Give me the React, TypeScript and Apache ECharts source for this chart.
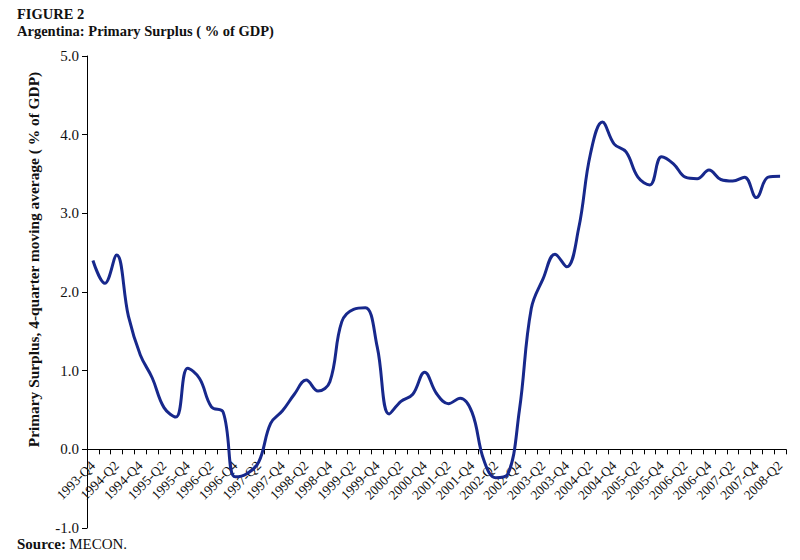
import React, { useEffect, useRef } from "react";
import * as echarts from "echarts";

const categories: string[] = [
  "1993-Q4",
  "1994-Q1", "1994-Q2", "1994-Q3", "1994-Q4",
  "1995-Q1", "1995-Q2", "1995-Q3", "1995-Q4",
  "1996-Q1", "1996-Q2", "1996-Q3", "1996-Q4",
  "1997-Q1", "1997-Q2", "1997-Q3", "1997-Q4",
  "1998-Q1", "1998-Q2", "1998-Q3", "1998-Q4",
  "1999-Q1", "1999-Q2", "1999-Q3", "1999-Q4",
  "2000-Q1", "2000-Q2", "2000-Q3", "2000-Q4",
  "2001-Q1", "2001-Q2", "2001-Q3", "2001-Q4",
  "2002-Q1", "2002-Q2", "2002-Q3", "2002-Q4",
  "2003-Q1", "2003-Q2", "2003-Q3", "2003-Q4",
  "2004-Q1", "2004-Q2", "2004-Q3", "2004-Q4",
  "2005-Q1", "2005-Q2", "2005-Q3", "2005-Q4",
  "2006-Q1", "2006-Q2", "2006-Q3", "2006-Q4",
  "2007-Q1", "2007-Q2", "2007-Q3", "2007-Q4",
  "2008-Q1", "2008-Q2",
];

const primarySurplus: number[] = [
  2.40,
  2.11, 2.47, 1.69, 1.20,
  0.91, 0.53, 0.41, 1.03,
  0.90, 0.54, 0.47, -0.35,
  -0.31, -0.16, 0.33, 0.49,
  0.70, 0.88, 0.74, 0.86,
  1.62, 1.78, 1.80, 1.30,
  0.45, 0.61, 0.70, 0.98,
  0.71, 0.58, 0.65, 0.47,
  -0.14, -0.36, -0.32, 0.50,
  1.79, 2.17, 2.48, 2.32,
  2.81, 3.76, 4.16, 3.88,
  3.78, 3.46, 3.36, 3.72,
  3.63, 3.46, 3.44, 3.55,
  3.43, 3.41, 3.46, 3.20,
  3.46, 3.47,
];

const yMin = -1;
const yMax = 5;
const yStep = 1;

const titleLine1 = "FIGURE 2";
const titleLine2 = "Argentina: Primary Surplus ( % of GDP)";
const yAxisTitle = "Primary Surplus, 4-quarter moving average ( % of GDP)";
const sourceLabel = "Source:";
const sourceText = "MECON.";

const SERIF = "'Liberation Serif', 'Times New Roman', serif";

const GRID_TOP = 56;
const GRID_BOTTOM = 32;
const GRID_HEIGHT = 560 - GRID_TOP - GRID_BOTTOM;

export default function App() {
  const ref = useRef<HTMLDivElement>(null);

  useEffect(() => {
    if (!ref.current) return;
    const chart = echarts.init(ref.current, null, { renderer: "svg" });
    const zeroOffset = -(GRID_HEIGHT * (0 - yMin)) / (yMax - yMin);
    chart.setOption({
      animation: false,
      backgroundColor: "#ffffff",
      textStyle: { fontFamily: SERIF },
      grid: {
        left: 87,
        right: 14,
        top: GRID_TOP,
        bottom: GRID_BOTTOM,
        containLabel: false,
        outerBoundsMode: "none",
      },
      graphic: [
        {
          type: "text",
          left: 17,
          top: 6,
          style: { text: titleLine1, font: `bold 14.5px ${SERIF}`, fill: "#111" },
        },
        {
          type: "text",
          left: 17,
          top: 23,
          style: { text: titleLine2, font: `bold 14.5px ${SERIF}`, fill: "#111" },
        },
        {
          type: "text",
          x: 33,
          y: 259.5,
          rotation: Math.PI / 2,
          style: {
            text: yAxisTitle,
            font: `bold 15.4px ${SERIF}`,
            fill: "#111",
            align: "center",
            verticalAlign: "middle",
          },
        },
        {
          type: "text",
          left: 17,
          top: 536,
          style: {
            text: `{b|${sourceLabel}} {r|${sourceText}}`,
            rich: {
              b: { font: `bold 15px ${SERIF}`, fill: "#111" },
              r: { font: `15px ${SERIF}`, fill: "#111" },
            },
          },
        },
      ],
      xAxis: {
        type: "category",
        data: categories,
        boundaryGap: true,
        position: "bottom",
        offset: zeroOffset,
        axisLine: { onZero: false, lineStyle: { color: "#000", width: 1 } },
        axisTick: { show: true, interval: 0, length: 5, lineStyle: { color: "#000" } },
        axisLabel: {
          interval: 1,
          rotate: 45,
          margin: 14,
          color: "#111",
          fontFamily: SERIF,
          fontSize: 13.5,
        },
        splitLine: { show: false },
      },
      yAxis: {
        type: "value",
        min: yMin,
        max: yMax,
        interval: yStep,
        axisLine: { show: true, lineStyle: { color: "#000", width: 1 } },
        axisTick: { show: true, length: 5, lineStyle: { color: "#000" } },
        axisLabel: {
          color: "#111",
          fontFamily: SERIF,
          fontSize: 15,
          margin: 8,
          formatter: (v: number) => v.toFixed(1),
        },
        splitLine: { show: false },
      },
      series: [
        {
          type: "line",
          data: primarySurplus,
          smooth: 0.4,
          symbol: "none",
          lineStyle: { color: "#17288c", width: 3 },
        },
      ],
    });
    return () => chart.dispose();
  }, []);

  return (
    <div
      ref={ref}
      style={{ position: "fixed", left: 0, top: 0, width: 800, height: 560, background: "#fff" }}
    />
  );
}
